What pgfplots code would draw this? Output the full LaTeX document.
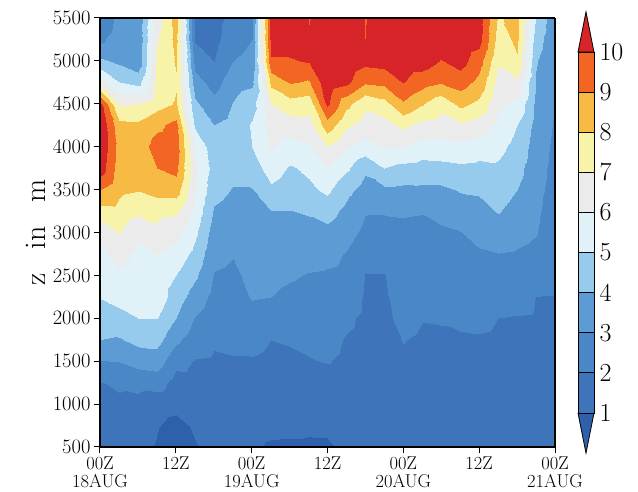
\documentclass[border=0pt]{standalone}
\usepackage{fontspec}
\usepackage{pgfplots}
\pgfplotsset{compat=1.18}
\definecolor{c0}{RGB}{46,96,172}
\definecolor{c1}{RGB}{61,116,186}
\definecolor{c2}{RGB}{74,135,198}
\definecolor{c3}{RGB}{92,155,212}
\definecolor{c4}{RGB}{150,203,238}
\definecolor{c5}{RGB}{224,241,247}
\definecolor{c6}{RGB}{235,235,235}
\definecolor{c7}{RGB}{247,243,168}
\definecolor{c8}{RGB}{247,186,69}
\definecolor{c9}{RGB}{242,101,34}
\definecolor{c10}{RGB}{214,36,41}
\begin{document}
\begin{tikzpicture}
\path[use as bounding box] (-100pt,-45pt) rectangle (538pt,447pt);
\begin{axis}[
  at={(0pt,0pt)}, anchor=south west,
  scale only axis, width=455pt, height=429pt,
  view={0}{90},
  xmin=0, xmax=72, ymin=500, ymax=5500,
  xtick={0,12,24,36,48,60,72},
  xticklabels={{00Z\\18AUG},{12Z},{00Z\\19AUG},{12Z},{00Z\\20AUG},{12Z},{00Z\\21AUG}},
  x tick label style={align=center, font=\fontsize{18.5}{18}\selectfont},
  ytick={500,1000,...,5500},
  y tick label style={font=\fontsize{20.5}{20}\selectfont, /pgf/number format/1000 sep={}, /pgf/number format/assume math mode=true},
  scaled y ticks=false,
  ztick=\empty,
  tick align=outside, tick pos=left,
  major tick length=6pt,
  tick style={line width=1pt, black},
  axis line style={line width=1.4pt},
  axis on top,
  ylabel={z\hspace{0.8em}in\hspace{0.8em}m},
  ylabel style={font=\fontsize{30}{30}\selectfont},
  colormap={ncl}{rgb255=(46,96,172) rgb255=(61,116,186) rgb255=(74,135,198) rgb255=(92,155,212) rgb255=(150,203,238) rgb255=(224,241,247) rgb255=(235,235,235) rgb255=(247,243,168) rgb255=(247,186,69) rgb255=(242,101,34) rgb255=(214,36,41)},
  colormap access=piecewise constant,
  point meta min=0, point meta max=11,
]
\addplot3[surf, shader=interp, mesh/cols=25] coordinates {
(0,500,1.4) (3,500,1.4) (6,500,1.15) (9,500,0.93) (12,500,0.5) (15,500,0.95) (18,500,1.2) (21,500,1.2) (24,500,1.2) (27,500,0.85) (30,500,0.8) (33,500,0.8) (36,500,0.85) (39,500,1.2) (42,500,1.2) (45,500,1.2) (48,500,1.3) (51,500,1.3) (54,500,1.3) (57,500,1.3) (60,500,1.3) (63,500,1.3) (66,500,1.3) (69,500,1.3) (72,500,1.3)
(0,750,1.6) (3,750,1.6) (6,750,1.5) (9,750,1.05) (12,750,0.75) (15,750,1.1) (18,750,1.4) (21,750,1.4) (24,750,1.4) (27,750,1.3) (30,750,1.3) (33,750,1.2) (36,750,1.2) (39,750,1.4) (42,750,1.4) (45,750,1.4) (48,750,1.45) (51,750,1.45) (54,750,1.45) (57,750,1.45) (60,750,1.45) (63,750,1.45) (66,750,1.45) (69,750,1.45) (72,750,1.45)
(0,1000,1.75) (3,1000,1.8) (6,1000,1.7) (9,1000,1.35) (12,1000,1.25) (15,1000,1.4) (18,1000,1.6) (21,1000,1.6) (24,1000,1.6) (27,1000,1.5) (30,1000,1.5) (33,1000,1.45) (36,1000,1.45) (39,1000,1.55) (42,1000,1.55) (45,1000,1.55) (48,1000,1.6) (51,1000,1.6) (54,1000,1.6) (57,1000,1.6) (60,1000,1.6) (63,1000,1.6) (66,1000,1.6) (69,1000,1.6) (72,1000,1.6)
(0,1250,1.95) (3,1250,2.16) (6,1250,2.32) (9,1250,2.45) (12,1250,1.6) (15,1250,1.7) (18,1250,1.75) (21,1250,1.75) (24,1250,1.75) (27,1250,1.65) (30,1250,1.65) (33,1250,1.6) (36,1250,1.6) (39,1250,1.7) (42,1250,1.65) (45,1250,1.65) (48,1250,1.75) (51,1250,1.72) (54,1250,1.72) (57,1250,1.7) (60,1250,1.7) (63,1250,1.7) (66,1250,1.7) (69,1250,1.72) (72,1250,1.7)
(0,1500,2.97) (3,1500,3.04) (6,1500,3.37) (9,1500,3.5) (12,1500,2.3) (15,1500,1.95) (18,1500,1.9) (21,1500,1.95) (24,1500,1.95) (27,1500,1.85) (30,1500,1.85) (33,1500,1.95) (36,1500,2.05) (39,1500,1.85) (42,1500,1.75) (45,1500,1.75) (48,1500,1.9) (51,1500,1.85) (54,1500,1.85) (57,1500,1.82) (60,1500,1.82) (63,1500,1.82) (66,1500,1.82) (69,1500,1.83) (72,1500,1.8)
(0,1750,3.99) (3,1750,3.9) (6,1750,4.3) (9,1750,4.35) (12,1750,3.2) (15,1750,2.45) (18,1750,2.1) (21,1750,2.15) (24,1750,2.2) (27,1750,2.0) (30,1750,2.07) (33,1750,2.2) (36,1750,2.25) (39,1750,1.95) (42,1750,1.8) (45,1750,1.8) (48,1750,2.02) (51,1750,1.92) (54,1750,1.92) (57,1750,1.92) (60,1750,1.95) (63,1750,1.92) (66,1750,1.92) (69,1750,1.9) (72,1750,1.86)
(0,2000,4.55) (3,2000,4.7) (6,2000,5.0) (9,2000,5.03) (12,2000,4.0) (15,2000,2.95) (18,2000,2.4) (21,2000,2.4) (24,2000,2.7) (27,2000,2.5) (30,2000,2.55) (33,2000,2.5) (36,2000,2.5) (39,2000,2.15) (42,2000,1.85) (45,2000,1.85) (48,2000,2.19) (51,2000,2.02) (54,2000,2.04) (57,2000,2.12) (60,2000,2.12) (63,2000,2.0) (66,2000,1.96) (69,2000,1.95) (72,2000,1.92)
(0,2250,5.05) (3,2250,5.3) (6,2250,5.25) (9,2250,5.6) (12,2250,4.5) (15,2250,3.55) (18,2250,2.7) (21,2250,2.6) (24,2250,3.07) (27,2250,3.0) (30,2250,2.8) (33,2250,2.7) (36,2250,2.7) (39,2250,2.55) (42,2250,1.9) (45,2250,1.9) (48,2250,2.35) (51,2250,2.21) (54,2250,2.25) (57,2250,2.33) (60,2250,2.37) (63,2250,2.32) (66,2250,2.27) (69,2250,1.99) (72,2250,1.97)
(0,2500,5.38) (3,2500,5.83) (6,2500,5.5) (9,2500,5.7) (12,2500,5.0) (15,2500,4.18) (18,2500,2.95) (21,2500,2.83) (24,2500,3.25) (27,2500,3.25) (30,2500,3.1) (33,2500,2.95) (36,2500,2.9) (39,2500,2.8) (42,2500,1.98) (45,2500,1.97) (48,2500,2.52) (51,2500,2.42) (54,2500,2.46) (57,2500,2.55) (60,2500,2.64) (63,2500,2.66) (66,2500,2.6) (69,2500,2.35) (72,2500,2.03)
(0,2750,5.71) (3,2750,6.42) (6,2750,5.77) (9,2750,6.04) (12,2750,5.6) (15,2750,4.72) (18,2750,3.25) (21,2750,3.05) (24,2750,3.45) (27,2750,3.5) (30,2750,3.4) (33,2750,3.35) (36,2750,3.25) (39,2750,2.95) (42,2750,2.4) (45,2750,2.35) (48,2750,2.68) (51,2750,2.61) (54,2750,2.67) (57,2750,2.76) (60,2750,2.9) (63,2750,2.98) (66,2750,2.91) (69,2750,2.76) (72,2750,2.2)
(0,3000,6.2) (3,3000,7.09) (6,3000,6.15) (9,3000,6.77) (12,3000,6.3) (15,3000,5.2) (18,3000,3.55) (21,3000,3.35) (24,3000,3.65) (27,3000,3.75) (30,3000,3.7) (33,3000,3.7) (36,3000,3.75) (39,3000,3.35) (42,3000,2.8) (45,3000,2.78) (48,3000,2.85) (51,3000,2.81) (54,3000,2.88) (57,3000,2.98) (60,3000,3.26) (63,3000,3.55) (66,3000,3.28) (69,3000,3.06) (72,3000,2.35)
(0,3250,7.6) (3,3250,7.7) (6,3250,7.2) (9,3250,7.3) (12,3250,7.2) (15,3250,5.7) (18,3250,3.9) (21,3250,3.65) (24,3250,3.85) (27,3250,3.97) (30,3250,3.98) (33,3250,4.1) (36,3250,4.4) (39,3250,3.75) (42,3250,3.05) (45,3250,3.05) (48,3250,3.07) (51,3250,3.04) (54,3250,3.24) (57,3250,3.5) (60,3250,3.68) (63,3250,4.07) (66,3250,3.64) (69,3250,3.18) (72,3250,2.5)
(0,3500,9.0) (3,3500,8.2) (6,3500,8.05) (9,3500,8.4) (12,3500,8.5) (15,3500,6.1) (18,3500,4.3) (21,3500,3.95) (24,3500,3.95) (27,3500,4.8) (30,3500,4.4) (33,3500,4.8) (36,3500,5.2) (39,3500,4.3) (42,3500,3.6) (45,3500,3.8) (48,3500,3.77) (51,3500,3.8) (54,3500,3.8) (57,3500,4.07) (60,3500,4.13) (63,3500,4.45) (66,3500,4.0) (69,3500,3.3) (72,3500,2.6)
(0,3750,10.6) (3,3750,8.5) (6,3750,8.4) (9,3750,9.0) (12,3750,9.3) (15,3750,6.2) (18,3750,4.6) (21,3750,4.3) (24,3750,4.5) (27,3750,5.5) (30,3750,4.9) (33,3750,5.2) (36,3750,5.95) (39,3750,5.2) (42,3750,4.2) (45,3750,5.0) (48,3750,4.71) (51,3750,4.57) (54,3750,4.7) (57,3750,4.8) (60,3750,4.73) (63,3750,4.85) (66,3750,4.34) (69,3750,3.41) (72,3750,2.7)
(0,4000,10.9) (3,4000,8.6) (6,4000,8.5) (9,4000,9.4) (12,4000,9.5) (15,4000,5.9) (18,4000,4.4) (21,4000,4.5) (24,4000,5.0) (27,4000,6.1) (30,4000,5.6) (33,4000,5.9) (36,4000,7.0) (39,4000,6.1) (42,4000,5.6) (45,4000,6.05) (48,4000,6.05) (51,4000,5.6) (54,4000,5.6) (57,4000,5.75) (60,4000,5.48) (63,4000,5.29) (66,4000,4.66) (69,4000,3.53) (72,4000,2.8)
(0,4250,10.9) (3,4250,8.3) (6,4250,8.2) (9,4250,8.8) (12,4250,9.3) (15,4250,4.8) (18,4250,4.0) (21,4250,4.35) (24,4250,5.1) (27,4250,6.5) (30,4250,6.5) (33,4250,6.6) (36,4250,8.6) (39,4250,7.2) (42,4250,6.6) (45,4250,6.65) (48,4250,7.23) (51,4250,6.7) (54,4250,6.6) (57,4250,6.85) (60,4250,6.5) (63,4250,5.78) (66,4250,5.0) (69,4250,3.66) (72,4250,2.9)
(0,4500,10.3) (3,4500,6.9) (6,4500,7.0) (9,4500,7.6) (12,4500,8.1) (15,4500,4.2) (18,4500,3.3) (21,4500,4.05) (24,4500,4.6) (27,4500,7.0) (30,4500,7.6) (33,4500,7.4) (36,4500,10.2) (39,4500,8.3) (42,4500,7.2) (45,4500,7.6) (48,4500,8.85) (51,4500,8.07) (54,4500,7.3) (57,4500,8.27) (60,4500,7.73) (63,4500,6.22) (66,4500,5.84) (69,4500,3.78) (72,4500,2.98)
(0,4750,6.5) (3,4750,5.0) (6,4750,4.6) (9,4750,7.3) (12,4750,7.9) (15,4750,3.4) (18,4750,2.6) (21,4750,3.6) (24,4750,3.8) (27,4750,8.3) (30,4750,9.1) (33,4750,8.9) (36,4750,10.7) (39,4750,10.3) (42,4750,9.15) (45,4750,9.3) (48,4750,10.05) (51,4750,9.45) (54,4750,9.1) (57,4750,9.48) (60,4750,8.72) (63,4750,6.66) (66,4750,6.82) (69,4750,3.9) (72,4750,3.05)
(0,5000,4.2) (3,5000,3.8) (6,5000,3.3) (9,5000,7.2) (12,5000,8.1) (15,5000,2.6) (18,5000,2.0) (21,5000,3.0) (24,5000,3.3) (27,5000,9.9) (30,5000,9.9) (33,5000,10.1) (36,5000,10.9) (39,5000,10.8) (42,5000,10.3) (45,5000,10.4) (48,5000,10.6) (51,5000,10.5) (54,5000,9.95) (57,5000,10.4) (60,5000,9.44) (63,5000,7.12) (66,5000,7.9) (69,5000,4.08) (72,5000,3.1)
(0,5250,2.8) (3,5250,3.5) (6,5250,3.2) (9,5250,6.9) (12,5250,8.3) (15,5250,1.9) (18,5250,1.7) (21,5250,2.6) (24,5250,3.0) (27,5250,10.4) (30,5250,10.5) (33,5250,10.1) (36,5250,10.9) (39,5250,10.9) (42,5250,10.0) (45,5250,10.6) (48,5250,10.4) (51,5250,10.8) (54,5250,10.7) (57,5250,10.8) (60,5250,10.4) (63,5250,7.6) (66,5250,8.2) (69,5250,4.5) (72,5250,3.15)
(0,5500,2.2) (3,5500,3.3) (6,5500,3.3) (9,5500,6.5) (12,5500,8.5) (15,5500,1.7) (18,5500,1.6) (21,5500,2.4) (24,5500,2.8) (27,5500,10.6) (30,5500,10.8) (33,5500,9.95) (36,5500,10.9) (39,5500,10.9) (42,5500,9.95) (45,5500,10.5) (48,5500,10.3) (51,5500,10.9) (54,5500,10.9) (57,5500,10.9) (60,5500,10.5) (63,5500,7.9) (66,5500,8.3) (69,5500,4.94) (72,5500,3.2)
};
\end{axis}
\begin{axis}[
  at={(478pt,-6.1pt)}, anchor=south west,
  scale only axis, width=16pt, height=441.1pt,
  xmin=0, xmax=1, ymin=0, ymax=11,
  axis line style={draw=none},
  xtick=\empty, ytick={1,2,...,10},
  yticklabel pos=right,
  major tick length=0pt,
  y tick label style={font=\fontsize{26}{26}\selectfont, xshift=2pt, /pgf/number format/assume math mode=true},
  clip=false,
]
\addplot[fill=c0, draw=black, line width=0.8pt] coordinates {(0,1) (1,1) (0.5,0)} -- cycle;
\addplot[fill=c1, draw=black, line width=0.8pt] coordinates {(0,1) (1,1) (1,2) (0,2)} -- cycle;
\addplot[fill=c2, draw=black, line width=0.8pt] coordinates {(0,2) (1,2) (1,3) (0,3)} -- cycle;
\addplot[fill=c3, draw=black, line width=0.8pt] coordinates {(0,3) (1,3) (1,4) (0,4)} -- cycle;
\addplot[fill=c4, draw=black, line width=0.8pt] coordinates {(0,4) (1,4) (1,5) (0,5)} -- cycle;
\addplot[fill=c5, draw=black, line width=0.8pt] coordinates {(0,5) (1,5) (1,6) (0,6)} -- cycle;
\addplot[fill=c6, draw=black, line width=0.8pt] coordinates {(0,6) (1,6) (1,7) (0,7)} -- cycle;
\addplot[fill=c7, draw=black, line width=0.8pt] coordinates {(0,7) (1,7) (1,8) (0,8)} -- cycle;
\addplot[fill=c8, draw=black, line width=0.8pt] coordinates {(0,8) (1,8) (1,9) (0,9)} -- cycle;
\addplot[fill=c9, draw=black, line width=0.8pt] coordinates {(0,9) (1,9) (1,10) (0,10)} -- cycle;
\addplot[fill=c10, draw=black, line width=0.8pt] coordinates {(0,10) (1,10) (0.5,11)} -- cycle;
\end{axis}
\end{tikzpicture}
\end{document}
